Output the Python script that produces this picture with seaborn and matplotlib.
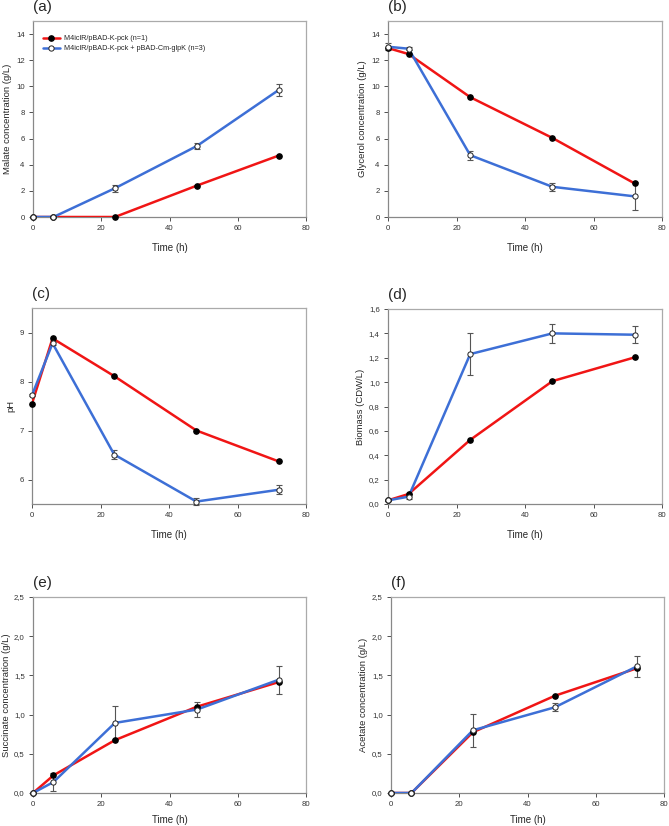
import numpy as np
import pandas as pd
import matplotlib
matplotlib.use("Agg")
import matplotlib.pyplot as plt
from matplotlib.lines import Line2D
import seaborn as sns

sns.set_style("white")
plt.rcParams['font.family'] = ['Liberation Sans', 'DejaVu Sans']

# sampling times (h)
time = [0, 6, 24, 48, 72]

red_label = "M4iclR/pBAD-K-pck (n=1)"
blue_label = "M4iclR/pBAD-K-pck + pBAD-Cm-glpK (n=3)"

# (a) malate
malate_red = [0, 0, 0, 2.4, 4.7]
malate_blue = [0, 0, 2.2, 5.43, 9.72]
malate_err = [0, 0, 0.25, 0.2, 0.45]

# (b) glycerol
glycerol_red = [12.93, 12.47, 9.17, 6.05, 2.57]
glycerol_blue = [13.03, 12.88, 4.73, 2.31, 1.58]
glycerol_err = [0.25, 0.1, 0.35, 0.33, 1.07]

# (c) pH
ph_red = [7.55, 8.88, 8.11, 7.0, 6.37]
ph_blue = [7.72, 8.78, 6.51, 5.55, 5.79]
ph_err = [0.02, 0.03, 0.1, 0.08, 0.09]

# (d) biomass
biomass_red = [0.03, 0.082, 0.526, 1.008, 1.203]
biomass_blue = [0.03, 0.06, 1.23, 1.40, 1.389]
biomass_err = [0.005, 0.02, 0.17, 0.075, 0.07]

# (e) succinate
succ_red = [0, 0.225, 0.674, 1.10, 1.415]
succ_blue = [0, 0.14, 0.894, 1.064, 1.445]
succ_err = [0, 0.11, 0.21, 0.1, 0.18]

# (f) acetate
acet_red = [0, 0, 0.775, 1.24, 1.59]
acet_blue = [0, 0, 0.80, 1.093, 1.614]
acet_err = [0, 0, 0.21, 0.05, 0.13]

RED = "#f01515"
BLUE = "#3d6fd6"
MS = 3.8

fig = plt.figure(figsize=(6.69, 8.26), dpi=100)
W, H = 669, 826

def px_axes(l, t, r, b):
    return fig.add_axes([l / W, 1 - b / H, (r - l) / W, (b - t) / H])

panels = [
    ("(a)", (33, 21, 306, 217), malate_red, malate_blue, malate_err,
     "Malate concentration (g/L)", (0, 15), np.arange(0, 15, 2), False),
    ("(b)", (388, 21, 662, 217), glycerol_red, glycerol_blue, glycerol_err,
     "Glycerol concentration (g/L)", (0, 15), np.arange(0, 15, 2), False),
    ("(c)", (32, 308, 306, 504), ph_red, ph_blue, ph_err,
     "pH", (5.5, 9.5), [6, 7, 8, 9], False),
    ("(d)", (388, 309, 662, 504), biomass_red, biomass_blue, biomass_err,
     "Biomass (CDW/L)", (0, 1.6), np.arange(0, 1.61, 0.2), True),
    ("(e)", (33, 597, 306, 793), succ_red, succ_blue, succ_err,
     "Succinate concentration (g/L)", (0, 2.5), np.arange(0, 2.51, 0.5), True),
    ("(f)", (391, 597, 664, 793), acet_red, acet_blue, acet_err,
     "Acetate concentration (g/L)", (0, 2.5), np.arange(0, 2.51, 0.5), True),
]

for i, (tag, box, yr, yb, eb, ylabel, ylim, yticks, comma) in enumerate(panels):
    ax = px_axes(*box)
    df = pd.DataFrame({
        "Time": time * 2,
        "value": yr + yb,
        "strain": [red_label] * 5 + [blue_label] * 5,
    })
    # error bars for the replicated strain
    ax.errorbar(time, yb, yerr=eb, fmt="none", ecolor="#555555",
                elinewidth=0.8, capsize=2.5, capthick=0.8, zorder=2,
                clip_on=False)
    sns.lineplot(data=df, x="Time", y="value", hue="strain",
                 palette=[RED, BLUE], linewidth=1.8, ax=ax, legend=False,
                 zorder=3)
    ax.plot(time, yr, "o", ms=MS, mfc="black", mec="black", zorder=4,
            clip_on=False)
    ax.plot(time, yb, "o", ms=MS, mfc="white", mec="#222222", mew=0.7,
            zorder=5, clip_on=False)

    ax.set_xlim(0, 80)
    ax.set_ylim(*ylim)
    ax.set_xticks([0, 20, 40, 60, 80])
    ax.set_yticks(yticks)
    if comma:
        ax.set_yticklabels([f"{v:.1f}".replace(".", ",") for v in yticks])
    else:
        ax.set_yticklabels([f"{v:g}" for v in yticks])
    ax.set_xlabel("Time (h)", fontsize=7, labelpad=7.5 if i < 4 else 5)
    ax.set_ylabel(ylabel, fontsize=6.8, labelpad=3 if i != 4 else 2)
    ax.tick_params(axis="both", labelsize=5.6, colors="#333333",
                   direction="out", length=3, width=0.6, pad=3,
                   bottom=True, left=True)
    for side in ["left", "bottom"]:
        ax.spines[side].set_color("#888888")
        ax.spines[side].set_linewidth(0.9)
    for side in ["top", "right"]:
        ax.spines[side].set_color("#aaaaaa")
        ax.spines[side].set_linewidth(0.9)
    ax.text(0.0, 1.035, tag, transform=ax.transAxes, fontsize=11,
            ha="left", va="bottom")

    if tag == "(a)":
        handles = [
            Line2D([], [], color=RED, lw=1.8, marker="o", ms=MS,
                   mfc="black", mec="black"),
            Line2D([], [], color=BLUE, lw=1.8, marker="o", ms=MS,
                   mfc="white", mec="#222222", mew=0.7),
        ]
        ax.legend(handles, [red_label, blue_label], loc="upper left",
                  bbox_to_anchor=(0.02, 0.95), frameon=False, fontsize=5.2,
                  handlelength=2.4, handletextpad=0.5, labelspacing=0.45,
                  borderaxespad=0.2)

fig.savefig("out.png", dpi=100)
